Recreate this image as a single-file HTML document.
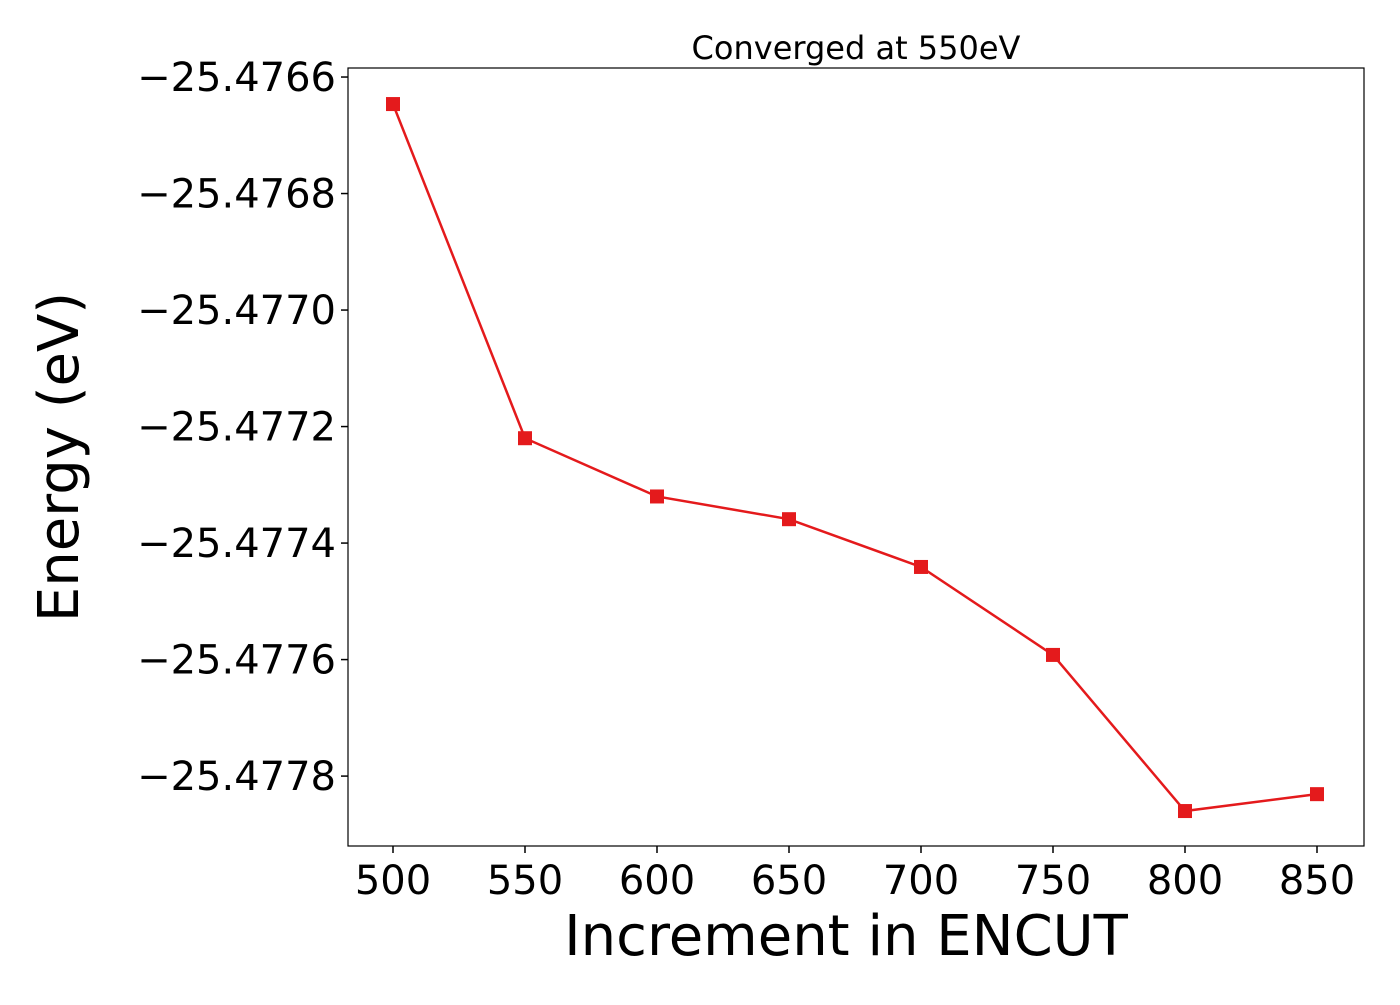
<!DOCTYPE html>
<html><head><meta charset="utf-8"><style>
html,body{margin:0;padding:0;background:#fff;}
svg text{font-family:"DejaVu Sans","Liberation Sans",sans-serif;fill:#000;}
</style></head><body>
<svg id="chart" width="1400" height="1000" xmlns="http://www.w3.org/2000/svg">
<rect width="1400" height="1000" fill="#fff"/>
<g id="plot"></g>
</svg>
<script>
const categories = [500,550,600,650,700,750,800,850];
const energies = [-25.4766464,-25.47722,-25.47732,-25.477359,-25.477441,-25.477592,-25.47786,-25.477831];
const xTicks = [500,550,600,650,700,750,800,850];
const yTicks = [-25.4766,-25.4768,-25.4770,-25.4772,-25.4774,-25.4776,-25.4778];
const yTickLabels = ["\u221225.4766","\u221225.4768","\u221225.4770","\u221225.4772","\u221225.4774","\u221225.4776","\u221225.4778"];

const L=348,R=1364,T=68,B=846;
const xs=v=>393+(v-500)*(1317-393)/350;
const yMax=-25.4765845,yMin=-25.47792;
const ys=v=>T+(yMax-v)/(yMax-yMin)*(B-T);
const NS="http://www.w3.org/2000/svg";
const g=document.getElementById('plot');
function mk(t,a){const e=document.createElementNS(NS,t);for(const k in a)e.setAttribute(k,a[k]);g.appendChild(e);return e;}

xTicks.forEach(v=>{
  const t=mk('line',{x1:xs(v),x2:xs(v),y1:B,y2:B+7,stroke:'#000','stroke-width':1.5});
  
  
  const l=mk('text',{x:xs(v),y:894,'text-anchor':'middle','font-size':40});
  l.textContent=v;
  
  
});
yTicks.forEach((v,i)=>{
  const t=mk('line',{x1:L-7,x2:L,y1:ys(v),y2:ys(v),stroke:'#000','stroke-width':1.5});
  
  
  const l=mk('text',{x:336,y:ys(v)+14,'text-anchor':'end','font-size':40});
  l.textContent=yTickLabels[i];
  
  
});

const pts=categories.map((c,i)=>xs(c)+','+ys(energies[i])).join(' ');
const line=mk('polyline',{points:pts,fill:'none',stroke:'#e41a1c','stroke-width':2.5});


categories.forEach((c,i)=>{
  const m=mk('rect',{x:xs(c)-7,y:ys(energies[i])-7,width:14,height:14,fill:'#e41a1c'});
  
  
});

const frame=mk('rect',{x:L,y:T,width:R-L,height:B-T,fill:'none',stroke:'#000','stroke-width':1.2});



const title=mk('text',{x:856,y:59,'text-anchor':'middle','font-size':32});
title.textContent='Converged at 550eV';



const xl=mk('text',{x:846,y:955,'text-anchor':'middle','font-size':56});
xl.textContent='Increment in ENCUT';



const yl=mk('text',{x:0,y:0,'text-anchor':'middle','font-size':56,transform:'translate(78,457) rotate(-90)'});
yl.textContent='Energy (eV)';


</script>
</body></html>
